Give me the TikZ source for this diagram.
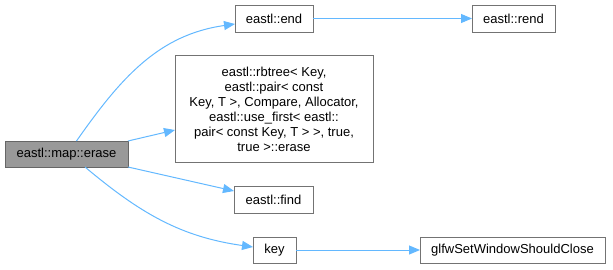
\documentclass[tikz,border=0pt]{standalone}
\usepackage{fontspec}
\setmainfont{Liberation Sans}
\usetikzlibrary{calc,arrows.meta}

\definecolor{callblue}{HTML}{63B8FF}

\begin{document}
\begin{tikzpicture}[
  x=1pt, y=1pt,
  font=\fontsize{13}{15}\selectfont,
  func/.style={
    rectangle,
    fill=white,
    draw=black!55,
    line width=1pt,
    inner sep=0pt,
    outer sep=0pt,
    align=center
  },
  this func/.style={
    func,
    fill=black!40,
    draw=black!60
  },
  call/.style={
    draw=callblue,
    line width=1pt,
    -{Triangle[length=11pt,width=9pt]}
  }
  ]
\useasboundingbox (0,0) rectangle (613,269);
% Erase
\node [this func, minimum width=123, minimum height=26] (erase) at (66.5,115) {eastl::map::erase};
% End / Rend
\node [func, minimum width=78, minimum height=27] (end) at (274,250.5) {eastl::end};
\node [func, minimum width=83, minimum height=27] (rend) at (513.5,250.5) {eastl::rend};
% Rbtree erase
\node [func, minimum width=198, minimum height=107] (rbtree erase) at (274,160)
  {eastl::rbtree< Key,\\ eastl::pair< const\\ Key, T >, Compare, Allocator,\\ eastl::use\_first< eastl::\\pair< const Key, T > >, true,\\ true >::erase};
% Find
\node [func, minimum width=79, minimum height=27] (find) at (273.5,69.5) {eastl::find};
% Key
\node [func, minimum width=43, minimum height=26] (key) at (274.5,19) {key};
\node [func, minimum width=185, minimum height=26] (glfw close) at (512.5,19) {glfwSetWindowShouldClose};
% Calls
\draw [call] ($(erase.north)+(10,0)$) to[out=55,in=188] ([yshift=-5.5]end.west);
\draw [call] (erase.north east) -- ([yshift=-21]rbtree erase.west);
\draw [call] (erase.south east) -- ([yshift=8.5]find.west);
\draw [call] ($(erase.south)+(18.5,0)$) to[out=-40,in=172] ([yshift=3]key.west);
\draw [call] (end) -- (rend);
\draw [call] (key) -- (glfw close);
\end{tikzpicture}
\end{document}
